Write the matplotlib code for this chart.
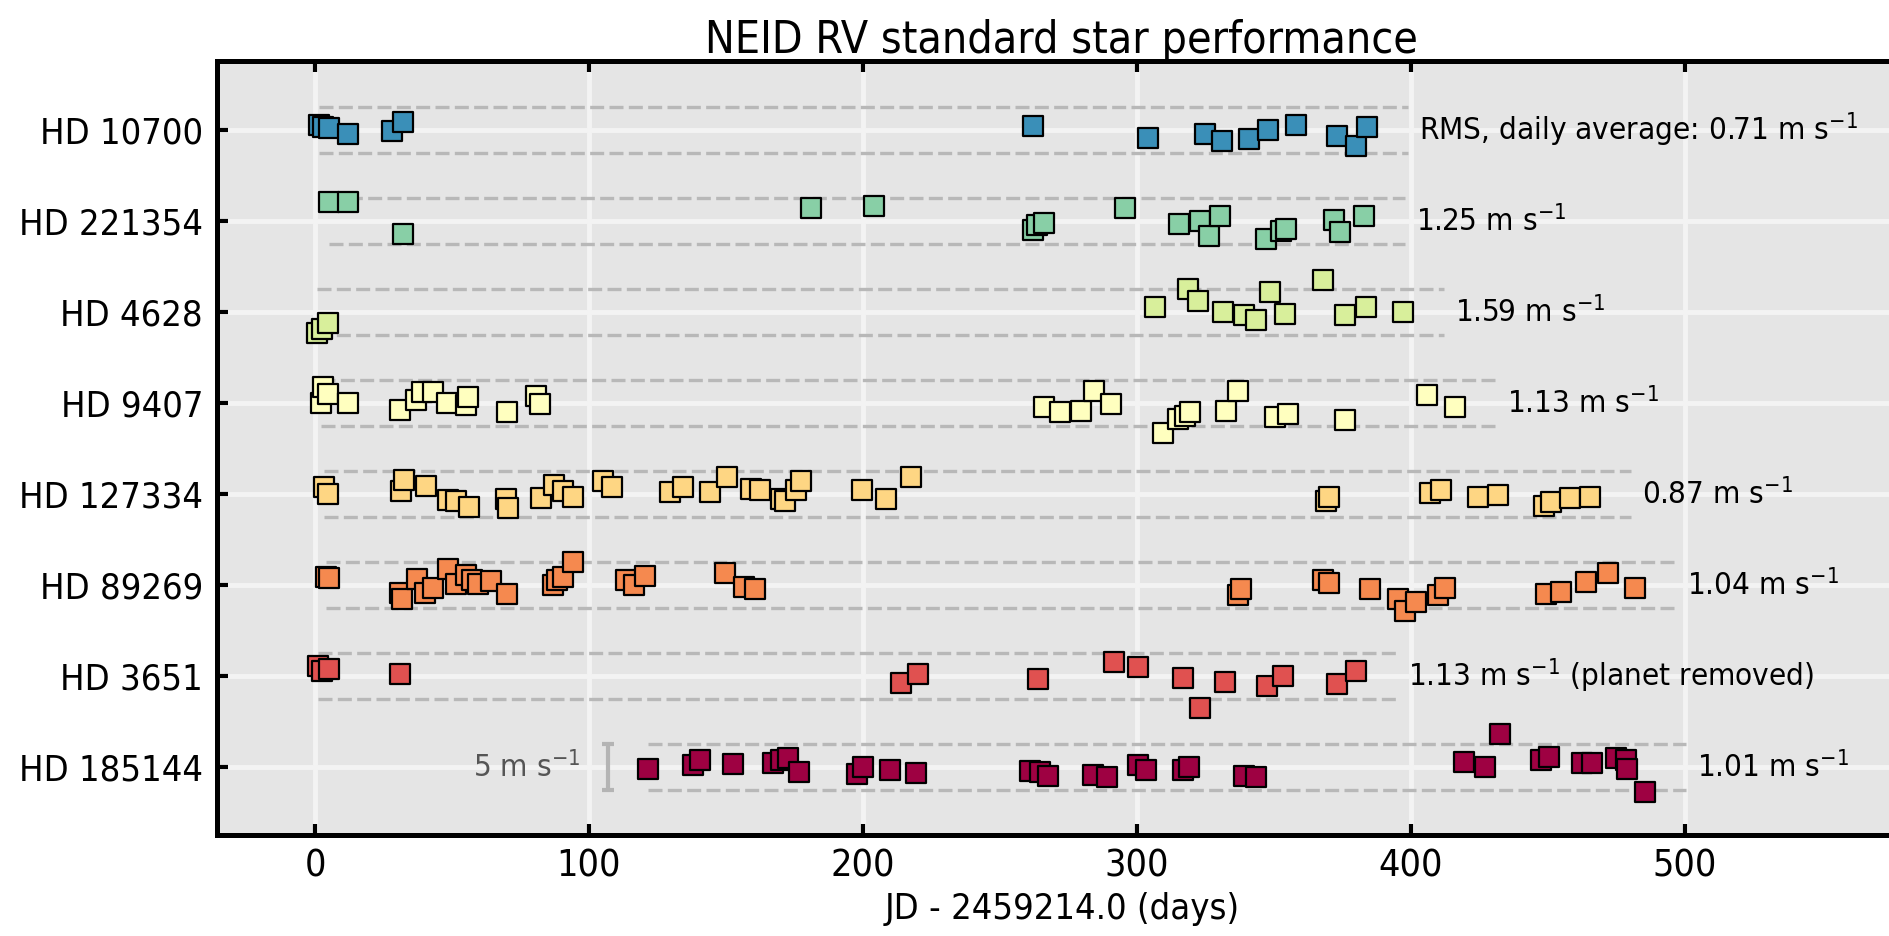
import numpy as np
import matplotlib
matplotlib.use('Agg')
from matplotlib import pyplot as plt
from matplotlib import font_manager

# star names, top row first
stars = ['HD 10700', 'HD 221354', 'HD 4628', 'HD 9407',
         'HD 127334', 'HD 89269', 'HD 3651', 'HD 185144']
rms_labels = ['RMS, daily average: 0.71 m s$^{-1}$', '1.25 m s$^{-1}$', '1.59 m s$^{-1}$',
              '1.13 m s$^{-1}$', '0.87 m s$^{-1}$', '1.04 m s$^{-1}$',
              '1.13 m s$^{-1}$ (planet removed)', '1.01 m s$^{-1}$']
star_colors = ['#3a8fb8', '#88cfa6', '#d8ef9b', '#ffffbf',
               '#fed683', '#f5894f', '#e05150', '#9e0142']

# days since JD 2459214.0 and RV residuals (m/s)
t_10700 = [1.5, 3.0, 5.0, 12, 28, 32, 262, 304, 325, 331, 341, 348, 358, 373, 380, 384]
rv_10700 = [0.6, 0.3, 0.2, -0.45, -0.1, 0.85, 0.5, -0.9, -0.45, -1.2, -1.0, 0.05, 0.55, -0.65, -1.75, 0.3]

t_221354 = [5, 12, 32, 181, 204, 262, 263.5, 266, 295.5, 315.5, 323, 326.5, 330.5, 347, 352.5, 354.5, 372, 374, 383]
rv_221354 = [2.1, 2.1, -1.4, 1.4, 1.7, -1.0, -0.4, -0.25, 1.45, -0.35, -0.05, -1.7, 0.5, -2.0, -1.05, -0.9, 0.1, -1.25, 0.55]

t_4628 = [0.7, 2.6, 4.7, 306.5, 318.5, 322.5, 331.5, 339, 343.5, 348.5, 354, 368, 376, 383.5, 397]
rv_4628 = [-2.3, -1.9, -1.2, 0.55, 2.55, 1.25, 0.0, -0.35, -0.9, 2.25, -0.2, 3.5, -0.35, 0.6, 0.05]

t_9407 = [2.3, 2.9, 4.9, 12, 31, 37, 39, 43, 48, 55, 56, 70, 80.5, 82, 266, 272, 279.5, 284.5,
          290.5, 309.5, 315, 317.5, 319.5, 332.5, 337, 350.5, 355, 376, 406, 416]
rv_9407 = [-0.05, 1.8, 1.0, -0.05, -0.75, 0.35, 1.2, 1.25, 0.0, -0.25, 0.6, -0.95, 0.75, -0.1, -0.45,
           -0.95, -0.9, 1.3, -0.1, -3.3, -1.8, -1.45, -1.0, -0.85, 1.35, -1.5, -1.25, -1.85, 0.85, -0.45]

t_127334 = [3.1, 4.7, 31.5, 32.3, 40.4, 48.4, 51.5, 56.2, 69.7, 70.4, 82.5, 87.3, 90.6, 94.3, 105,
            108.5, 129.5, 134.5, 144, 150.5, 159, 162.5, 170, 171.5, 175.5, 177.5, 199.5, 208.5,
            217.5, 369, 370, 407, 411, 424.5, 432, 448.5, 451, 458, 465.5]
rv_127334 = [0.8, 0.0, 0.35, 1.5, 0.9, -0.65, -0.75, -1.45, -0.6, -1.6, -0.4, 0.95, 0.35, -0.35, 1.45,
             0.8, 0.25, 0.8, 0.25, 1.85, 0.5, 0.45, -0.6, -0.75, 0.4, 1.45, 0.45, -0.6,
             1.85, -0.75, -0.35, 0.15, 0.45, -0.35, -0.15, -1.3, -0.85, -0.5, -0.3]

t_89269 = [3.9, 5.1, 31.1, 31.8, 37.2, 40.1, 43, 48.7, 51.5, 55.1, 57.2, 59.6, 64.4, 69.9, 86.7,
           88.2, 90.6, 94.3, 113.4, 116.3, 120.3, 149.5, 156.6, 160.5, 337, 338, 368, 370, 385,
           395.5, 398, 402, 410, 412.5, 449.5, 455, 464, 472, 482]
rv_89269 = [0.9, 0.8, -0.9, -1.6, 0.6, -0.9, -0.35, 1.7, 0.1, 1.05, 0.55, 0.15, 0.45, -1.0, -0.05,
            0.5, 0.85, 2.55, 0.5, 0.0, 0.95, 1.3, -0.2, -0.5, -1.15, -0.5, 0.5, 0.2, -0.5,
            -1.55, -2.9, -1.85, -1.15, -0.3, -0.95, -0.8, 0.35, 1.3, -0.35]

t_3651 = [1.0, 2.5, 5.1, 31, 214, 220, 264, 291.5, 300.5, 317, 323, 332, 347.5, 353.5, 373, 380]
rv_3651 = [1.1, 0.5, 0.7, 0.2, -0.75, 0.2, -0.35, 1.55, 1.0, -0.2, -3.5, -0.65, -1.15, 0.0, -0.85, 0.5]

t_185144 = [121.5, 138, 140.5, 152.5, 167, 170, 172.5, 176.5, 198, 200, 210, 219.5, 261, 264.5,
            267.5, 284, 289, 300.5, 303.5, 317, 319, 339, 343.5, 419.5, 427, 432.5, 447.5,
            450.5, 462.5, 466, 475, 478.5, 479, 485.5]
rv_185144 = [-0.2, 0.2, 0.8, 0.3, 0.4, 0.7, 0.95, -0.55, -0.8, -0.05, -0.3, -0.65, -0.45, -0.55,
             -1.0, -0.9, -1.15, 0.2, -0.35, -0.3, 0.0, -1.05, -1.15, 0.5, -0.05, 3.6, 0.7,
             1.05, 0.4, 0.4, 0.95, 0.8, -0.2, -2.75]

times = [t_10700, t_221354, t_4628, t_9407, t_127334, t_89269, t_3651, t_185144]
rvs = [rv_10700, rv_221354, rv_4628, rv_9407, rv_127334, rv_89269, rv_3651, rv_185144]

ROW_STEP = 10.0     # m/s between rows
BAND = 2.5          # dashed guide lines at +/- this
DASH_PAD = 15       # days past last point
TEXT_PAD = 4

# use a condensed face if one is installed
family, stretch = 'Liberation Sans', 'normal'
for f in font_manager.fontManager.ttflist:
    fn = f.fname.lower()
    if ('narrow' in fn or 'condensed' in fn) and not any(k in fn for k in ('bold', 'italic', 'oblique')):
        family, stretch = f.name, 'condensed'
        break

plt.rcParams['font.family'] = [family, 'DejaVu Sans']
plt.rcParams['font.stretch'] = stretch
plt.rcParams['mathtext.fontset'] = 'custom'
plt.rcParams['mathtext.rm'] = family
plt.rcParams['mathtext.it'] = family
plt.rcParams['mathtext.default'] = 'regular'

fig = plt.figure(figsize=(18.9, 9.36), dpi=100)
ax = fig.add_axes([0.1148, 0.1079, 0.894, 0.827])
ax.set_facecolor('#e5e5e5')

for i, (t, rv) in enumerate(zip(times, rvs)):
    y0 = -ROW_STEP * i
    t = np.asarray(t)
    rv = np.asarray(rv)
    x_end = t.max() + DASH_PAD
    for s in (1, -1):
        ax.plot([t.min(), x_end], [y0 + s * BAND] * 2, color='#b8b8b8', lw=2.4,
                linestyle=(0, (4.2, 1.6)), zorder=2)
    ax.scatter(t, rv + y0, marker='s', s=200, color=star_colors[i], edgecolors='black',
               linewidths=1.6, zorder=3)
    ax.text(x_end + TEXT_PAD, y0, rms_labels[i], fontsize=22.5, va='center', ha='left', zorder=4)

# 5 m/s scale bar
ax.errorbar([107], [-ROW_STEP * 7], yerr=[BAND], color='#b4b4b4', elinewidth=3,
            capsize=4, capthick=3, fmt='none', zorder=3)
ax.text(97, -ROW_STEP * 7, '5 m s$^{-1}$', fontsize=22.5, color='#555555',
        ha='right', va='center')

ax.set_xlim(-35.8, 581)
ax.set_ylim(-77.5, 7.6)
ax.set_yticks([-ROW_STEP * i for i in range(len(stars))])
ax.set_yticklabels(stars)
ax.set_xticks([0, 100, 200, 300, 400, 500])

ax.grid(True, color='#f3f3f3', lw=3.5, zorder=0)
ax.set_axisbelow(True)

for side in ['left', 'top', 'bottom']:
    ax.spines[side].set_linewidth(3.6)
ax.spines['right'].set_visible(False)
ax.tick_params(axis='both', direction='in', length=8, width=3, pad=10)
ax.tick_params(axis='x', top=True, labelsize=27)
ax.tick_params(axis='y', labelsize=26)

ax.set_xlabel('JD - 2459214.0 (days)', fontsize=26, labelpad=5)
ax.set_title('NEID RV standard star performance', fontsize=32, pad=6)

fig.savefig('out.png', dpi=100)
